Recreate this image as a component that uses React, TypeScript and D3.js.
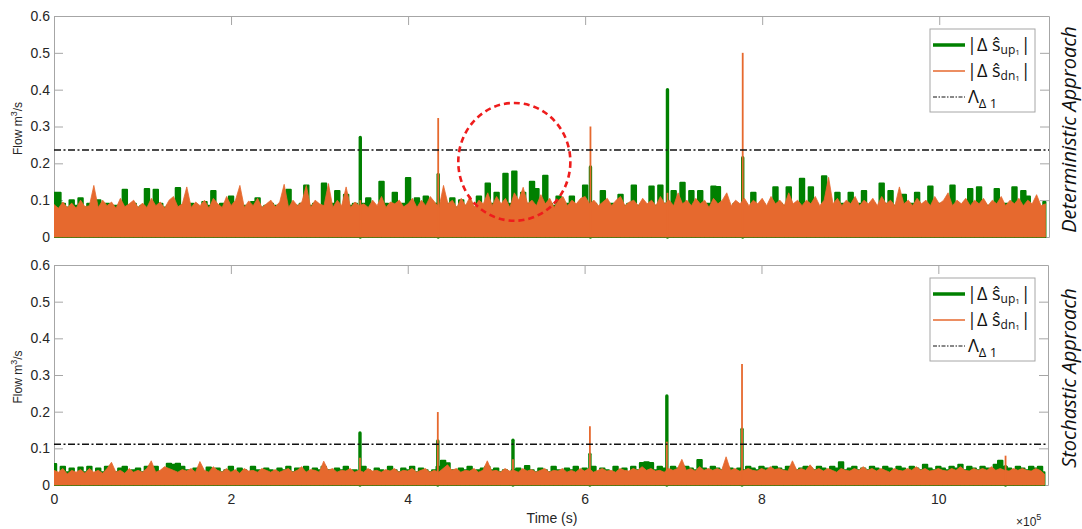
import React, { useEffect, useRef } from "react";
import * as d3 from "d3";

// records are sampled every 5000 s, starting at t = 0
const step = 5000;

// top panel: deterministic approach (m^3/s)
const upTop = [
  .12, .12, .09, .08, .1, .085, .105, .08, .09, .075,
  .1, .08, .09, .075, .085, .08, .128, .085, .09, .08,
  .085, .13, .08, .128, .09, .08, .085, .075, .133, .085,
  .08, .09, .085, .08, .095, .085, .125, .08, .09, .085,
  .11, .08, .09, .085, .08, .095, .105, .08, .085, .09,
  .085, .08, .09, .128, .08, .085, .09, .14, .085, .09,
  .08, .145, .085, .09, .125, .08, .115, .085, .09, .08,
  .09, .105, .085, .08, .15, .09, .085, .12, .08, .09,
  .16, .08, .105, .085, .11, .08, .09, .085, .09, .09,
  .105, .08, .1, .085, .09, .08, .11, .085, .145, .09,
  .12, .085, .172, .09, .178, .085, .12, .09, .15, .13,
  .085, .166, .09, .085, .11, .08, .09, .11, .085, .09,
  .14, .085, .09, .08, .125, .085, .09, .08, .115, .085,
  .09, .14, .085, .09, .08, .137, .085, .14, .09, .085,
  .125, .09, .147, .085, .125, .09, .125, .085, .09, .137,
  .136, .085, .09, .08, .09, .085, .09, .08, .12, .085,
  .09, .08, .085, .135, .09, .085, .135, .08, .09, .158,
  .085, .135, .09, .08, .165, .09, .085, .12, .09, .08,
  .12, .085, .09, .125, .085, .09, .08, .145, .09, .125,
  .085, .09, .115, .08, .09, .12, .085, .09, .137, .085,
  .09, .08, .085, .14, .09, .085, .08, .13, .085, .135,
  .09, .085, .08, .13, .085, .09, .08, .135, .085, .125,
  .11, .085, .09, .08, .095,
];
const dnTop = [
  .088, .078, .095, .08, .092, .078, .1, .082, .085, .14,
  .08, .1, .085, .095, .078, .105, .082, .09, .1, .08,
  .092, .08, .105, .085, .095, .078, .1, .11, .082, .09,
  .136, .08, .095, .085, .1, .078, .105, .09, .08, .11,
  .085, .1, .14, .08, .098, .085, .105, .08, .09, .1,
  .082, .095, .143, .08, .1, .085, .095, .14, .08, .1,
  .09, .085, .145, .08, .1, .085, .136, .08, .095, .085,
  .09, .08, .1, .085, .11, .08, .095, .09, .1, .082,
  .09, .105, .08, .1, .085, .11, .095, .08, .14, .09,
  .1, .08, .105, .085, .11, .08, .1, .09, .12, .085,
  .11, .09, .105, .08, .12, .1, .135, .09, .1, .085,
  .115, .09, .105, .08, .1, .11, .085, .1, .09, .105,
  .11, .09, .1, .085, .095, .105, .085, .1, .11, .085,
  .095, .1, .085, .105, .09, .1, .085, .11, .09, .1,
  .085, .12, .09, .1, .085, .105, .09, .1, .08, .105,
  .09, .1, .12, .085, .1, .09, .105, .085, .1, .09,
  .105, .085, .11, .09, .1, .085, .12, .09, .1, .085,
  .1, .09, .11, .085, .1, .162, .09, .105, .085, .1,
  .09, .11, .085, .1, .09, .105, .085, .11, .09, .1,
  .085, .136, .09, .1, .085, .105, .09, .1, .085, .11,
  .09, .1, .12, .085, .1, .09, .105, .085, .1, .09,
  .105, .085, .1, .09, .11, .085, .1, .09, .105, .085,
  .1, .09, .115, .085, .09,
];
const spikeTimesTop = [3.46e5, 4.34e5, 6.06e5, 6.93e5, 7.78e5];
const upSpikesTop = [0.27, 0.17, 0.19, 0.4, 0.215];
const dnSpikesTop = [0.1, 0.323, 0.3, 0.12, 0.5];
const thresholdTop = 0.236;

// bottom panel: stochastic approach (m^3/s)
const upBottom = [
  .057, .03, .05, .035, .045, .03, .048, .035, .05, .03,
  .045, .035, .05, .04, .035, .045, .05, .035, .04, .045,
  .035, .05, .045, .05, .035, .04, .058, .055, .058, .05,
  .04, .035, .045, .04, .035, .048, .04, .045, .035, .04,
  .05, .035, .045, .04, .035, .05, .04, .035, .045, .04,
  .035, .045, .04, .05, .035, .045, .04, .05, .035, .045,
  .04, .05, .04, .035, .045, .04, .05, .035, .04, .03,
  .05, .04, .035, .045, .04, .035, .05, .04, .035, .045,
  .04, .05, .035, .045, .04, .035, .04, .05, .066, .059,
  .04, .035, .045, .04, .05, .035, .04, .045, .05, .04,
  .045, .035, .04, .035, .04, .045, .035, .052, .04, .035,
  .045, .04, .035, .05, .04, .035, .045, .04, .05, .035,
  .045, .04, .05, .035, .045, .04, .035, .05, .04, .045,
  .035, .05, .04, .06, .062, .06, .04, .05, .045, .04,
  .05, .045, .04, .05, .045, .04, .068, .045, .04, .05,
  .045, .04, .05, .045, .04, .045, .04, .05, .045, .04,
  .05, .045, .04, .05, .045, .04, .05, .045, .04, .045,
  .05, .045, .04, .05, .045, .04, .05, .045, .062, .04,
  .045, .05, .04, .045, .04, .05, .045, .04, .05, .045,
  .04, .05, .045, .04, .05, .045, .04, .055, .045, .04,
  .05, .045, .04, .05, .045, .055, .04, .05, .045, .04,
  .05, .045, .04, .055, .066, .05, .045, .04, .05, .045,
  .04, .05, .045, .05, .035,
];
const dnBottom = [
  .04, .035, .045, .03, .04, .035, .042, .032, .045, .035,
  .04, .032, .045, .062, .035, .04, .032, .045, .035, .04,
  .035, .045, .066, .035, .04, .05, .045, .04, .035, .042,
  .038, .045, .035, .064, .04, .035, .05, .04, .035, .045,
  .035, .042, .032, .045, .038, .04, .035, .045, .04, .035,
  .042, .035, .04, .045, .035, .04, .05, .035, .042, .04,
  .035, .065, .04, .045, .035, .04, .038, .045, .035, .04,
  .035, .045, .038, .04, .035, .042, .038, .045, .035, .04,
  .038, .045, .035, .04, .045, .035, .04, .035, .045, .055,
  .04, .045, .035, .04, .038, .045, .035, .04, .066, .038,
  .04, .035, .045, .038, .04, .035, .045, .038, .042, .035,
  .04, .045, .035, .04, .038, .045, .035, .04, .035, .045,
  .038, .045, .035, .04, .045, .038, .04, .035, .045, .04,
  .038, .045, .04, .05, .04, .045, .038, .04, .035, .045,
  .04, .045, .07, .04, .045, .038, .05, .04, .045, .04,
  .045, .04, .077, .04, .045, .038, .04, .045, .04, .038,
  .045, .04, .05, .042, .045, .04, .038, .066, .04, .045,
  .04, .055, .04, .045, .038, .045, .04, .035, .045, .04,
  .038, .045, .04, .05, .04, .045, .038, .045, .04, .035,
  .045, .04, .038, .045, .04, .05, .04, .045, .038, .04,
  .045, .04, .038, .045, .04, .05, .04, .038, .045, .04,
  .045, .04, .05, .04, .045, .04, .038, .045, .04, .045,
  .04, .038, .045, .04, .03,
];
const spikeTimesBottom = [3.46e5, 4.34e5, 5.19e5, 6.06e5, 6.93e5, 7.78e5, 10.76e5];
const upSpikesBottom = [0.142, 0.12, 0.122, 0.084, 0.243, 0.152, 0.05];
const dnSpikesBottom = [0.074, 0.199, 0.07, 0.16, 0.118, 0.33, 0.08];
const thresholdBottom = 0.111;

// axes
const xMax = 11.24e5;
const xTicks = [0, 2e5, 4e5, 6e5, 8e5, 10e5];
const xTickLabels = ["0", "2", "4", "6", "8", "10"];
const yTicks = [0, 0.1, 0.2, 0.3, 0.4, 0.5, 0.6];
const yTickLabels = ["0", "0.1", "0.2", "0.3", "0.4", "0.5", "0.6"];

// highlighted region in the top panel (time, flow)
const markCenter = [5.2e5, 0.204];
const markRadius = [0.633e5, 0.16];

const GREEN = "#008000";
const ORANGE = "#e6692e";
const AXIS = "#a6a6a6";
const TEXT = "#262626";
const FONT = "'Liberation Sans', Arial, sans-serif";
const LEG_FONT = "'Open Sans', 'Noto Sans', sans-serif";

const panels = [
  {
    top: 16, bottom: 237, right: 1049,
    up: upTop, dn: dnTop,
    spikeT: spikeTimesTop, upSpk: upSpikesTop, dnSpk: dnSpikesTop,
    thr: thresholdTop, title: "Deterministic Approach", mark: true, xLabels: false,
  },
  {
    top: 265, bottom: 485, right: 1048,
    up: upBottom, dn: dnBottom,
    spikeT: spikeTimesBottom, upSpk: upSpikesBottom, dnSpk: dnSpikesBottom,
    thr: thresholdBottom, title: "Stochastic Approach", mark: false, xLabels: true,
  },
];

export default function App() {
  const ref = useRef<SVGSVGElement>(null);

  useEffect(() => {
    const svg = d3.select(ref.current);
    svg.selectAll("*").remove();
    const left = 54;

    panels.forEach((p, pi) => {
      const x = d3.scaleLinear().domain([0, xMax]).range([left, p.right]);
      const y = d3.scaleLinear().domain([0, 0.6]).range([p.bottom, p.top]);
      const g = svg.append("g");

      const styleAxis = (a: any) => {
        a.select(".domain").attr("stroke", AXIS);
        a.selectAll(".tick line").attr("stroke", AXIS);
        a.selectAll(".tick text")
          .attr("fill", TEXT)
          .style("font-family", FONT)
          .style("font-size", "14px");
      };

      g.append("g")
        .attr("transform", `translate(${left},0)`)
        .call(
          d3.axisLeft(y).tickValues(yTicks).tickSize(-9).tickSizeOuter(0).tickPadding(4)
            .tickFormat((_d: any, i: number) => yTickLabels[i])
        )
        .call(styleAxis);
      g.append("g")
        .attr("transform", `translate(${p.right},0)`)
        .call(d3.axisRight(y).tickValues(yTicks).tickSize(-9).tickSizeOuter(0).tickFormat(() => ""))
        .call(styleAxis);
      g.append("g")
        .attr("transform", `translate(0,${p.top})`)
        .call(d3.axisTop(x).tickValues(xTicks).tickSize(-9).tickSizeOuter(0).tickFormat(() => ""))
        .call(styleAxis);
      g.append("g")
        .attr("transform", `translate(0,${p.bottom})`)
        .call(
          d3.axisBottom(x).tickValues(xTicks).tickSize(-9).tickSizeOuter(0).tickPadding(9)
            .tickFormat((_d: any, i: number) => (p.xLabels ? xTickLabels[i] : ""))
        )
        .call(styleAxis);

      // y label
      const yl = g.append("text")
        .attr("transform", `translate(22,${(p.top + p.bottom) / 2 + 2}) rotate(-90)`)
        .attr("text-anchor", "middle")
        .attr("fill", TEXT)
        .style("font-family", FONT)
        .style("font-size", "12px");
      yl.append("tspan").text("Flow m");
      yl.append("tspan").attr("dy", -5).style("font-size", "9px").text("3");
      yl.append("tspan").attr("dy", 5).text("/s");

      // data
      const clipId = `clip${pi}`;
      g.append("clipPath").attr("id", clipId)
        .append("rect")
        .attr("x", left).attr("y", p.top - 2)
        .attr("width", p.right - left + 1).attr("height", p.bottom - p.top + 4);
      const plot = g.append("g").attr("clip-path", `url(#${clipId})`);

      const stepArea = d3.area<number>()
        .curve(d3.curveStep)
        .x((_d, i) => x(i * step))
        .y0(y(0))
        .y1((d) => y(d));
      const spikyArea = d3.area<number>()
        .x((_d, i) => x(i * step))
        .y0(y(0))
        .y1((d) => y(d));

      plot.append("path").datum(p.up).attr("d", stepArea)
        .attr("fill", GREEN).attr("stroke", GREEN).attr("stroke-width", 2)
        .attr("stroke-linejoin", "round");
      plot.selectAll(".up-spike").data(p.spikeT).join("line")
        .attr("class", "up-spike")
        .attr("x1", (d) => x(d)).attr("x2", (d) => x(d))
        .attr("y1", y(0)).attr("y2", (_d, i) => y(p.upSpk[i]))
        .attr("stroke", GREEN).attr("stroke-width", 3.4).attr("stroke-linecap", "round");

      plot.append("path").datum(p.dn).attr("d", spikyArea)
        .attr("fill", ORANGE).attr("stroke", ORANGE).attr("stroke-width", 0.8);
      plot.selectAll(".dn-spike").data(p.spikeT).join("line")
        .attr("class", "dn-spike")
        .attr("x1", (d) => x(d)).attr("x2", (d) => x(d))
        .attr("y1", y(0)).attr("y2", (_d, i) => y(p.dnSpk[i]))
        .attr("stroke", ORANGE).attr("stroke-width", 1.8);

      // threshold
      g.append("line")
        .attr("x1", left).attr("x2", p.right)
        .attr("y1", y(p.thr)).attr("y2", y(p.thr))
        .attr("stroke", "#111").attr("stroke-width", 1.4)
        .attr("stroke-dasharray", "7,2.5,2,2.5");

      if (p.mark) {
        g.append("ellipse")
          .attr("cx", x(markCenter[0])).attr("cy", y(markCenter[1]))
          .attr("rx", x(markCenter[0] + markRadius[0]) - x(markCenter[0]))
          .attr("ry", y(markCenter[1]) - y(markCenter[1] + markRadius[1]))
          .attr("fill", "none").attr("stroke", "#ee1c1c")
          .attr("stroke-width", 2.6).attr("stroke-dasharray", "6,4");
      }

      // legend
      const lx = 930, ly = p.top + 13;
      const lg = g.append("g");
      lg.append("rect").attr("x", lx).attr("y", ly).attr("width", 105).attr("height", 83)
        .attr("fill", "#fff").attr("stroke", AXIS).attr("stroke-width", 1);
      const rows = [16, 42, 68];
      lg.append("line").attr("x1", lx + 3).attr("x2", lx + 35)
        .attr("y1", ly + rows[0]).attr("y2", ly + rows[0])
        .attr("stroke", GREEN).attr("stroke-width", 3.5);
      lg.append("line").attr("x1", lx + 3).attr("x2", lx + 35)
        .attr("y1", ly + rows[1]).attr("y2", ly + rows[1])
        .attr("stroke", ORANGE).attr("stroke-width", 1.5);
      lg.append("line").attr("x1", lx + 3).attr("x2", lx + 35)
        .attr("y1", ly + rows[2]).attr("y2", ly + rows[2])
        .attr("stroke", "#111").attr("stroke-width", 1)
        .attr("stroke-dasharray", "4,1.5,1.5,1.5");

      const entry = (row: number, sub: string) => {
        const t = lg.append("text")
          .attr("x", lx + 37).attr("y", ly + row + 6)
          .attr("fill", "#111")
          .style("font-family", LEG_FONT)
          .style("font-size", "18px");
        t.append("tspan").text("|\u0394 \u015D");
        t.append("tspan").attr("dy", 3).style("font-size", "12px").text(sub);
        t.append("tspan").attr("dy", 1).style("font-size", "8px").text("1");
        t.append("tspan").attr("dy", -4).attr("dx", 1).text("|");
      };
      entry(rows[0], "up");
      entry(rows[1], "dn");
      const lam = lg.append("text")
        .attr("x", lx + 38).attr("y", ly + rows[2] + 6)
        .attr("fill", "#111")
        .style("font-family", LEG_FONT)
        .style("font-size", "18px");
      lam.append("tspan").text("\u039B");
      lam.append("tspan").attr("dy", 5).style("font-size", "13px").text("\u0394 1");

      // panel title on the right
      g.append("text")
        .attr("transform", `translate(1076,${(p.top + p.bottom) / 2 + 3}) rotate(-90)`)
        .attr("text-anchor", "middle")
        .attr("fill", "#111")
        .style("font-family", LEG_FONT)
        .style("font-style", "italic")
        .style("font-size", "20px")
        .text(p.title);
    });

    // x axis label and exponent
    svg.append("text")
      .attr("x", 552).attr("y", 523)
      .attr("text-anchor", "middle")
      .attr("fill", TEXT)
      .style("font-family", FONT)
      .style("font-size", "14px")
      .text("Time (s)");
    const ex = svg.append("text")
      .attr("x", 1016).attr("y", 526)
      .attr("fill", TEXT)
      .style("font-family", FONT)
      .style("font-size", "12px");
    ex.append("tspan").text("\u00D710");
    ex.append("tspan").attr("dy", -6).style("font-size", "9px").text("5");
  }, []);

  return (
    <svg
      ref={ref}
      width={1082}
      height={529}
      style={{ position: "absolute", left: 0, top: 0, background: "#fff" }}
    />
  );
}
